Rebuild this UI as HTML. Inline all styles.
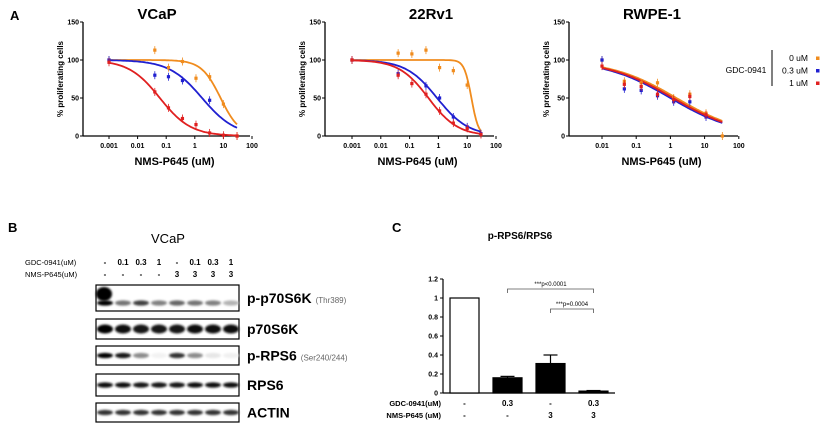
<!DOCTYPE html>
<html><head><meta charset="utf-8"><style>
html,body{margin:0;padding:0;background:#fff;width:824px;height:436px;overflow:hidden}
svg{display:block;font-family:"Liberation Sans",Arial,sans-serif}
</style></head><body>
<svg id="fig" width="824" height="436" viewBox="0 0 824 436" xmlns="http://www.w3.org/2000/svg">
<defs><filter id="blur" x="-20%" y="-50%" width="140%" height="200%"><feGaussianBlur stdDeviation="1.0"/></filter></defs>
<g id="root"></g>
</svg>
<script>
// ---------- Panel A data ----------
const vcapDoses = [0.001,0.04,0.12,0.37,1.1,3.3,10,30];
const vcapOrange = [100,113,90,98,76,78,42,0];
const vcapBlue = [100,80,78,73,null,47,null,null];
const vcapRed = [97,58,37,23,15,4,1,0];
const vcapIC50 = [8,1.8,0.06];
const vcapHill = [1.3,0.75,0.8];

const rvDoses = [0.001,0.04,0.12,0.37,1.1,3.3,10,30];
const rvOrange = [100,109,108,113,90,86,67,2];
const rvBlue = [100,82,null,66,50,25,12,3];
const rvRed = [100,80,69,55,33,17,10,2];
const rvIC50 = [14,0.9,0.45];
const rvHill = [3.5,0.8,0.85];

const rwDoses = [0.01,0.045,0.14,0.42,1.25,3.7,11,33];
const rwOrange = [100,72,70,70,50,55,30,0];
const rwBlue = [100,62,60,53,45,45,25,null];
const rwRed = [92,68,65,55,48,52,28,null];
const rwIC50 = [1.5,1.0,1.2];
const rwHill = [0.45,0.45,0.45];

const yTicks = [0,50,100,150];
const seriesColors = ['#f08c1e','#2020d0','#e02020'];
const legendLabels = ['0 uM','0.3 uM','1 uM'];

// ---------- Panel C data ----------
const barValues = [1,0.16,0.31,0.02];
const barErrors = [0,0.015,0.09,0.006];
const barTicks = [0,0.2,0.4,0.6,0.8,1,1.2];
const barGdc = ['-','0.3','-','0.3'];
const barNms = ['-','-','3','3'];

// ---------- Panel B data ----------
const laneGdc = ['-','0.1','0.3','1','-','0.1','0.3','1'];
const laneNms = ['-','-','-','-','3','3','3','3'];
const blotNames = ['p-p70S6K','p70S6K','p-RPS6','RPS6','ACTIN'];
const blotSub = ['(Thr389)','','(Ser240/244)','',''];
const bandIntensity = [
 [1,0.55,0.75,0.5,0.6,0.55,0.5,0.3],
 [1,0.95,0.9,0.9,0.9,0.95,0.95,0.95],
 [1,0.9,0.45,0.05,0.8,0.45,0.1,0.06],
 [0.95,0.95,0.9,0.9,0.9,0.95,0.95,0.95],
 [0.8,0.8,0.8,0.8,0.8,0.8,0.8,0.8]
];

const NS='http://www.w3.org/2000/svg';
const root=document.getElementById('root');
function mk(tag,attrs,parent){const e=document.createElementNS(NS,tag);for(const k in attrs)e.setAttribute(k,attrs[k]);(parent||root).appendChild(e);return e;}
function txt(s,x,y,size,opts,parent){const t=mk('text',Object.assign({x:x,y:y,'font-size':size,'font-weight':'bold','text-anchor':'middle',fill:'#000'},opts||{}),parent);t.textContent=s;return t;}

function curvePanel(cfg){
  const g=mk('g',{});
  
  
  const xs=v=>cfg.x0+(Math.log10(v)-cfg.lmin)*cfg.dec;
  const ys=v=>136-v*0.76;
  txt(cfg.title,cfg.titleX,19,15,{},g);
  mk('line',{x1:cfg.ax,y1:22,x2:cfg.ax,y2:136,stroke:'#000','stroke-width':1.3},g);
  mk('line',{x1:cfg.ax,y1:136,x2:cfg.xend,y2:136,stroke:'#000','stroke-width':1.3},g);
  yTicks.forEach(t=>{mk('line',{x1:cfg.ax-3,y1:ys(t),x2:cfg.ax,y2:ys(t),stroke:'#000'},g);const l=txt(String(t),cfg.ax-4,ys(t)+2.5,7,{'text-anchor':'end'},g);});
  cfg.xticks.forEach(t=>{const x=xs(t);mk('line',{x1:x,y1:136,x2:x,y2:139,stroke:'#000'},g);const l=txt(String(t),x,148,7,{},g);});
  const xt=txt('NMS-P645 (uM)',(cfg.ax+cfg.xend)/2+8,165,11,{},g);
  const yt=txt('% proliferating cells',0,0,8,{transform:`translate(${cfg.ax-20},79) rotate(-90)`},g);
  const sets=[cfg.o,cfg.b,cfg.r];
  for(let s=0;s<3;s++){
    let d='';const lo=Math.log10(cfg.doses[0]),hi=Math.log10(cfg.doses[cfg.doses.length-1]);
    for(let i=0;i<=80;i++){const lx=lo+(hi-lo)*i/80;const v=100/(1+Math.pow(Math.pow(10,lx)/cfg.ic[s],cfg.h[s]));d+=(i?'L':'M')+xs(Math.pow(10,lx)).toFixed(1)+','+ys(v).toFixed(1);}
    const p=mk('path',{d:d,fill:'none',stroke:seriesColors[s],'stroke-width':1.8},g);
    
    
  }
  for(let s=0;s<3;s++){
    sets[s].forEach((v,i)=>{if(v===null)return;const x=xs(cfg.doses[i]),y=ys(v);
      mk('line',{x1:x,y1:y-4,x2:x,y2:y+4,stroke:seriesColors[s],'stroke-width':0.8},g);
      const m=mk('rect',{x:x-1.6,y:y-1.6,width:3.2,height:3.2,fill:seriesColors[s]},g);
      
      
    });
  }
}
curvePanel({name:'vcap',title:'VCaP',titleX:157,ax:83,xend:250,x0:109,lmin:-3,dec:28.6,xticks:[0.001,0.01,0.1,1,10,100],doses:vcapDoses,o:vcapOrange,b:vcapBlue,r:vcapRed,ic:vcapIC50,h:vcapHill});
curvePanel({name:'22rv1',title:'22Rv1',titleX:431,ax:325,xend:494,x0:352,lmin:-3,dec:28.8,xticks:[0.001,0.01,0.1,1,10,100],doses:rvDoses,o:rvOrange,b:rvBlue,r:rvRed,ic:rvIC50,h:rvHill});
curvePanel({name:'rwpe1',title:'RWPE-1',titleX:652,ax:569,xend:738,x0:602,lmin:-2,dec:34.2,xticks:[0.01,0.1,1,10,100],doses:rwDoses,o:rwOrange,b:rwBlue,r:rwRed,ic:rwIC50,h:rwHill});

txt('A',10,20,13,{'text-anchor':'start'});
const lg=mk('g',{});


txt('GDC-0941',746,73,8.5,{'font-weight':'normal'},lg);
mk('line',{x1:772,y1:50,x2:772,y2:86,stroke:'#000','stroke-width':1},lg);
legendLabels.forEach((l,i)=>{const y=58+i*12.5;const t=txt(l,808,y+3,8.5,{'text-anchor':'end','font-weight':'normal'},lg);mk('rect',{x:816,y:y-1.5,width:3.5,height:3.5,fill:seriesColors[i]},lg);});

// ---------- Panel B ----------
txt('B',8,232,13,{'text-anchor':'start'});
const gb=mk('g',{});


txt('VCaP',168,243,13,{'font-weight':'normal'},gb);
txt('GDC-0941(uM)',25,265,7.5,{'text-anchor':'start','font-weight':'normal'},gb);
txt('NMS-P645(uM)',25,277,7.5,{'text-anchor':'start','font-weight':'normal'},gb);
const laneX=i=>105+i*18;
laneGdc.forEach((v,i)=>txt(v,laneX(i),265,8,{'font-weight':'bold'},gb));
laneNms.forEach((v,i)=>txt(v,laneX(i),277,8,{'font-weight':'bold'},gb));
const blotY=[[285,311],[319,339],[346,365],[374,396],[403,422]];
blotY.forEach((r,b)=>{
  const bx=mk('rect',{x:96,y:r[0],width:143,height:r[1]-r[0],fill:'#fff',stroke:'#000','stroke-width':1.2},gb);
  
  const cy=(r[0]+r[1])/2+(b===0?5:0);
  bandIntensity[b].forEach((v,i)=>{
    const c=Math.round(255*(1-v));
    mk('ellipse',{cx:laneX(i),cy:cy,rx:8,ry:b===1?4.5:2.6,fill:`rgb(${c},${c},${c})`,filter:'url(#blur)'},gb);
  });
  if(b===0){mk('ellipse',{cx:laneX(0)-1,cy:r[0]+9,rx:8,ry:7,fill:'#000',filter:'url(#blur)'},gb);}
  const t=mk('text',{x:247,y:(r[0]+r[1])/2+5,'font-size':14,'font-weight':'bold',fill:'#000'},gb);
  t.textContent=blotNames[b];
  if(blotSub[b]){const s=mk('tspan',{'font-size':8,'font-weight':'normal',fill:'#666',dx:4},t);s.textContent=blotSub[b];}
});

// ---------- Panel C ----------
txt('C',392,232,13,{'text-anchor':'start'});
const gc=mk('g',{});


txt('p-RPS6/RPS6',520,239,10,{},gc);
const by=v=>393-v*95;
const bx=i=>464.5+i*43;
mk('line',{x1:443,y1:by(1.2),x2:443,y2:393,stroke:'#000','stroke-width':1.2},gc);
mk('line',{x1:443,y1:393,x2:615,y2:393,stroke:'#000','stroke-width':1.2},gc);
barTicks.forEach(t=>{mk('line',{x1:440,y1:by(t),x2:443,y2:by(t),stroke:'#000'},gc);txt(String(t),438,by(t)+2.5,7,{'text-anchor':'end'},gc);});
barValues.forEach((v,i)=>{
  const x=bx(i);
  if(barErrors[i]>0){mk('line',{x1:x,y1:by(v),x2:x,y2:by(v+barErrors[i]),stroke:'#000','stroke-width':1.2},gc);mk('line',{x1:x-7,y1:by(v+barErrors[i]),x2:x+7,y2:by(v+barErrors[i]),stroke:'#000','stroke-width':1.2},gc);}
  const r=mk('rect',{x:x-14.5,y:by(v),width:29,height:393-by(v),fill:i===0?'#fff':'#000',stroke:'#000','stroke-width':1.2},gc);
  
  
  txt(barGdc[i],x,406,8,{},gc);
  txt(barNms[i],x,418,8,{},gc);
});
txt('GDC-0941(uM)',441,406,7.5,{'text-anchor':'end'},gc);
txt('NMS-P645 (uM)',441,418,7.5,{'text-anchor':'end'},gc);
function bracket(i,j,y,label){mk('path',{d:`M${bx(i)},${y+4}V${y}H${bx(j)}V${y+4}`,fill:'none',stroke:'#555','stroke-width':0.8},gc);const t=txt(label,(bx(i)+bx(j))/2,y-3,6,{'font-weight':'normal'},gc);}
bracket(1,3,289,'***p<0.0001');
bracket(2,3,309,'***p=0.0004');
</script>
</body></html>
